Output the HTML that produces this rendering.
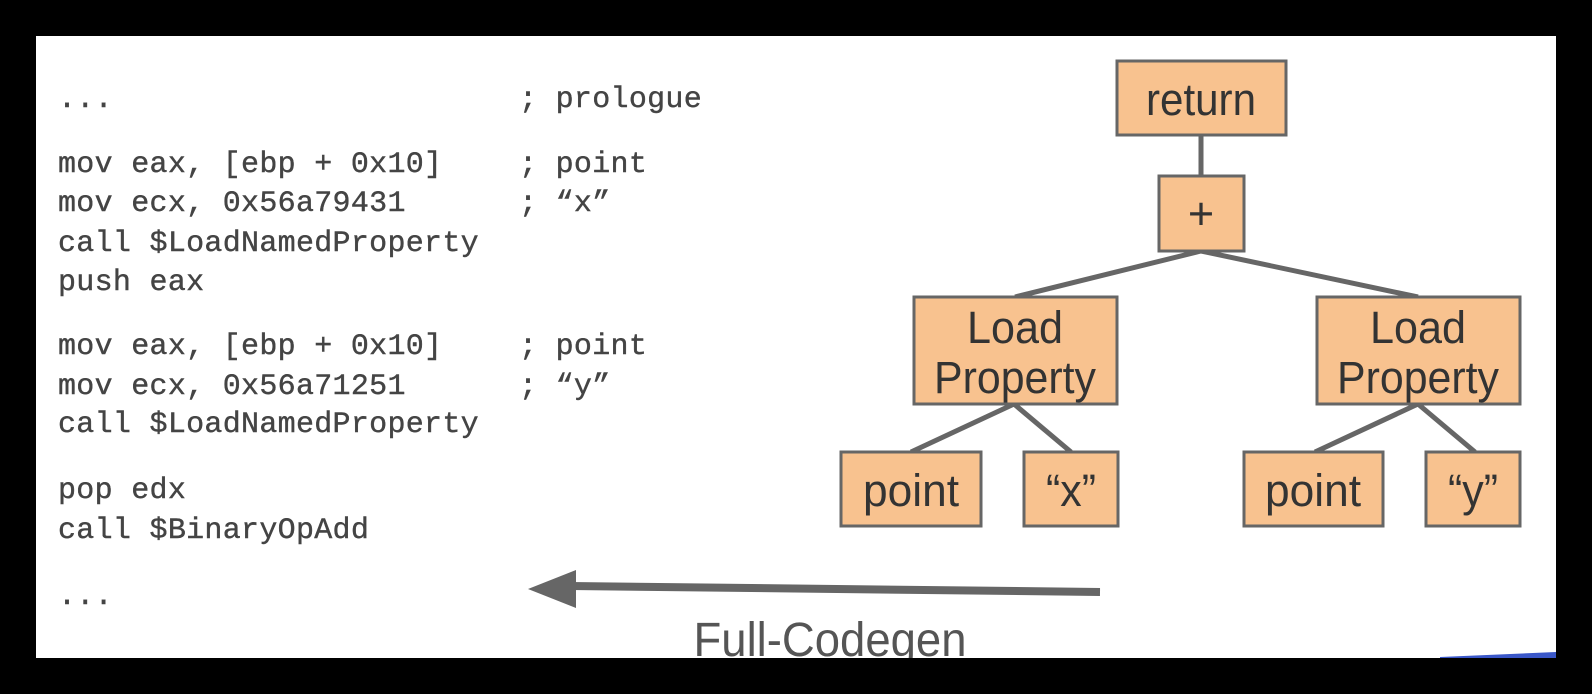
<!DOCTYPE html>
<html><head><meta charset="utf-8"><style>
html,body{margin:0;padding:0;background:#000;width:1592px;height:694px;overflow:hidden}
svg{display:block}
</style></head><body>
<svg width="1592" height="694" viewBox="0 0 1592 694" xmlns="http://www.w3.org/2000/svg">
<rect x="0" y="0" width="1592" height="694" fill="#000"/>
<rect x="36" y="36" width="1520" height="622" fill="#fff"/>
<polygon points="1440,657 1556,652 1556,658 1440,658" fill="#3a57c8"/>
<g font-family="'Liberation Mono', monospace" font-size="30" fill="#444" letter-spacing="0.3" stroke="#444" stroke-width="0.4">
<text x="58" y="107">...</text>
<text x="519" y="107">; prologue</text>
<text x="58" y="172">mov eax, [ebp + 0x10]</text>
<text x="519" y="172">; point</text>
<text x="58" y="211">mov ecx, 0x56a79431</text>
<text x="519" y="211">; “x”</text>
<text x="58" y="251">call $LoadNamedProperty</text>
<text x="58" y="290">push eax</text>
<text x="58" y="354">mov eax, [ebp + 0x10]</text>
<text x="519" y="354">; point</text>
<text x="58" y="394">mov ecx, 0x56a71251</text>
<text x="519" y="394">; “y”</text>
<text x="58" y="432">call $LoadNamedProperty</text>
<text x="58" y="498">pop edx</text>
<text x="58" y="538">call $BinaryOpAdd</text>
<text x="58" y="604">...</text>
</g>
<g stroke="#666" stroke-width="5" fill="none">
<line x1="1201" y1="135" x2="1201" y2="176"/>
<line x1="1201" y1="251" x2="1015" y2="297"/>
<line x1="1201" y1="251" x2="1418" y2="297"/>
<line x1="1014" y1="404" x2="911" y2="452"/>
<line x1="1014" y1="404" x2="1071" y2="452"/>
<line x1="1418" y1="404" x2="1315" y2="452"/>
<line x1="1418" y1="404" x2="1475" y2="452"/>
</g>
<g fill="#f8c28f" stroke="#666" stroke-width="3">
<rect x="1117" y="61" width="169" height="74"/>
<rect x="1159" y="176" width="85" height="75"/>
<rect x="914" y="297" width="203" height="107"/>
<rect x="1317" y="297" width="203" height="107"/>
<rect x="841" y="452" width="140" height="74"/>
<rect x="1024" y="452" width="94" height="74"/>
<rect x="1244" y="452" width="139" height="74"/>
<rect x="1426" y="452" width="94" height="74"/>
</g>
<g font-family="'Liberation Sans', sans-serif" font-size="45" fill="#333" text-anchor="middle" lengthAdjust="spacingAndGlyphs">
<text x="1201" y="115" textLength="110" lengthAdjust="spacingAndGlyphs">return</text>
<text x="1201" y="229">+</text>
<text x="1015" y="343" textLength="96" lengthAdjust="spacingAndGlyphs">Load</text>
<text x="1015" y="393" textLength="162" lengthAdjust="spacingAndGlyphs">Property</text>
<text x="1418" y="343" textLength="96" lengthAdjust="spacingAndGlyphs">Load</text>
<text x="1418" y="393" textLength="162" lengthAdjust="spacingAndGlyphs">Property</text>
<text x="911" y="506" textLength="96" lengthAdjust="spacingAndGlyphs">point</text>
<text x="1071" y="506" textLength="50" lengthAdjust="spacingAndGlyphs">“x”</text>
<text x="1313" y="506" textLength="96" lengthAdjust="spacingAndGlyphs">point</text>
<text x="1473" y="506" textLength="50" lengthAdjust="spacingAndGlyphs">“y”</text>
</g>
<line x1="1100" y1="592" x2="570" y2="586" stroke="#666" stroke-width="8"/>
<polygon points="528,589 576,570 576,608" fill="#666"/>
<text x="830" y="656" font-family="'Liberation Sans', sans-serif" font-size="48" fill="#555" text-anchor="middle" textLength="273" lengthAdjust="spacingAndGlyphs">Full-Codegen</text>
<rect x="0" y="658" width="1592" height="36" fill="#000"/>
</svg>
</body></html>
